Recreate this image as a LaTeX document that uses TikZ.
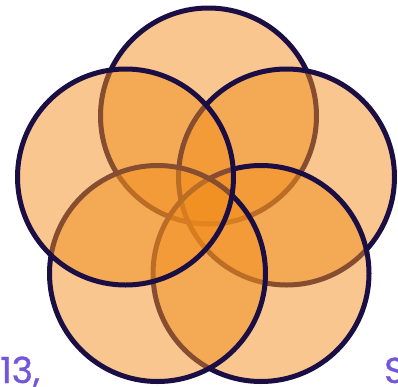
\documentclass[tikz,border=0pt]{standalone}
\usepackage{fontspec}
\newfontfamily\labelfont{Poppins}[FakeBold=0.9]
\definecolor{petalfill}{HTML}{F18D1D}
\definecolor{petalline}{HTML}{1B0E45}
\definecolor{labelpurple}{HTML}{7456DA}
\tikzset{
  petal/.style={draw=petalline, line width=5pt, fill=petalfill, fill opacity=0.5, draw opacity=1},
  cutlabel/.style={text=labelpurple, font=\labelfont\fontsize{36}{36}\selectfont, inner sep=0pt, anchor=base west}
}
\begin{document}
\begin{tikzpicture}[x=1pt,y=-1pt]
\useasboundingbox (0,0) rectangle (398,386);
\def\rr{108}
\draw[petal] (208.5,116) circle[radius=\rr];
\draw[petal] (286.5,177) circle[radius=\rr];
\draw[petal] (261,273.5) circle[radius=\rr];
\draw[petal] (157.5,273.5) circle[radius=\rr];
\draw[petal] (125.5,177) circle[radius=\rr];
\node[cutlabel] (lbl1) at (0,383) {13,};
\node[cutlabel] (lbl2) at (384,383) {S};
\end{tikzpicture}
\end{document}
